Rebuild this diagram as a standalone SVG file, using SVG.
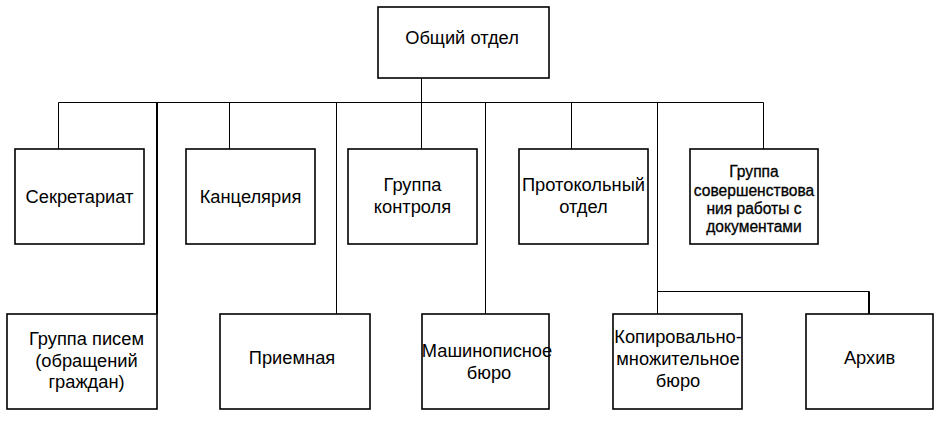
<svg xmlns="http://www.w3.org/2000/svg" width="942" height="422" viewBox="0 0 942 422">
<style>
.box{fill:#fff;stroke:#000;stroke-width:1.6}
.t{font-family:"Liberation Sans",Arial,sans-serif;font-size:18.3px;fill:#000;text-anchor:middle}
.s{font-family:"Liberation Sans",Arial,sans-serif;font-size:15.6px;fill:#000;text-anchor:middle;stroke:#000;stroke-width:0.3}
.c{fill:none;stroke:#000;stroke-width:1}
.ct{fill:none;stroke:#000;stroke-width:2}
</style>
<rect width="942" height="422" fill="#fff"/>
<g id="connectors">
<path class="c" d="M421.5 78V102.5M58.5 102.5H763.5M58.5 102.5V149M229.5 102.5V149M421.5 102.5V149M571.5 102.5V149M763.5 102.5V149M336.5 102.5V314M485.5 102.5V314M657.5 102.5V314M657.5 291.5H869.5"/>
<path class="ct" d="M157 102.5V314M869 291.5V314"/>
</g>
<g id="n-obshiy"><rect class="box" x="378" y="7" width="171" height="71"/><text class="t" x="462" y="44">Общий отдел</text></g>
<g id="n-sekretariat"><rect class="box" x="15" y="149" width="129" height="95"/><text class="t" x="79.5" y="203">Секретариат</text></g>
<g id="n-kancelyariya"><rect class="box" x="186" y="149" width="129" height="95"/><text class="t" x="250.5" y="203">Канцелярия</text></g>
<g id="n-kontrol"><rect class="box" x="348" y="149" width="129" height="95"/><text class="t" x="412.5" y="191">Группа</text><text class="t" x="412.5" y="213">контроля</text></g>
<g id="n-protokol"><rect class="box" x="519" y="149" width="129" height="95"/><text class="t" x="583.5" y="191">Протокольный</text><text class="t" x="583.5" y="213">отдел</text></g>
<g id="n-sovershenstv"><rect class="box" x="690" y="149" width="128" height="95"/><text class="s" x="754" y="177">Группа</text><text class="s" x="754" y="196">совершенствова</text><text class="s" x="754" y="214">ния работы с</text><text class="s" x="754" y="232">документами</text></g>
<g id="n-pisem"><rect class="box" x="7" y="314" width="150" height="95"/><text class="t" x="86.5" y="345">Группа писем</text><text class="t" x="86.5" y="366.5">(обращений</text><text class="t" x="86.5" y="388">граждан)</text></g>
<g id="n-priemnaya"><rect class="box" x="220" y="314" width="150" height="95"/><text class="t" x="292" y="364">Приемная</text></g>
<g id="n-mashinopis"><rect class="box" x="422" y="314" width="127" height="95"/><text class="t" x="487" y="357">Машинописное</text><text class="t" x="489" y="379">бюро</text></g>
<g id="n-kopir"><rect class="box" x="613" y="314" width="129" height="95"/><text class="t" x="678" y="343">Копировально-</text><text class="t" x="678" y="365">множительное</text><text class="t" x="678" y="387">бюро</text></g>
<g id="n-arhiv"><rect class="box" x="806" y="314" width="127" height="95"/><text class="t" x="869.5" y="364">Архив</text></g>
</svg>
